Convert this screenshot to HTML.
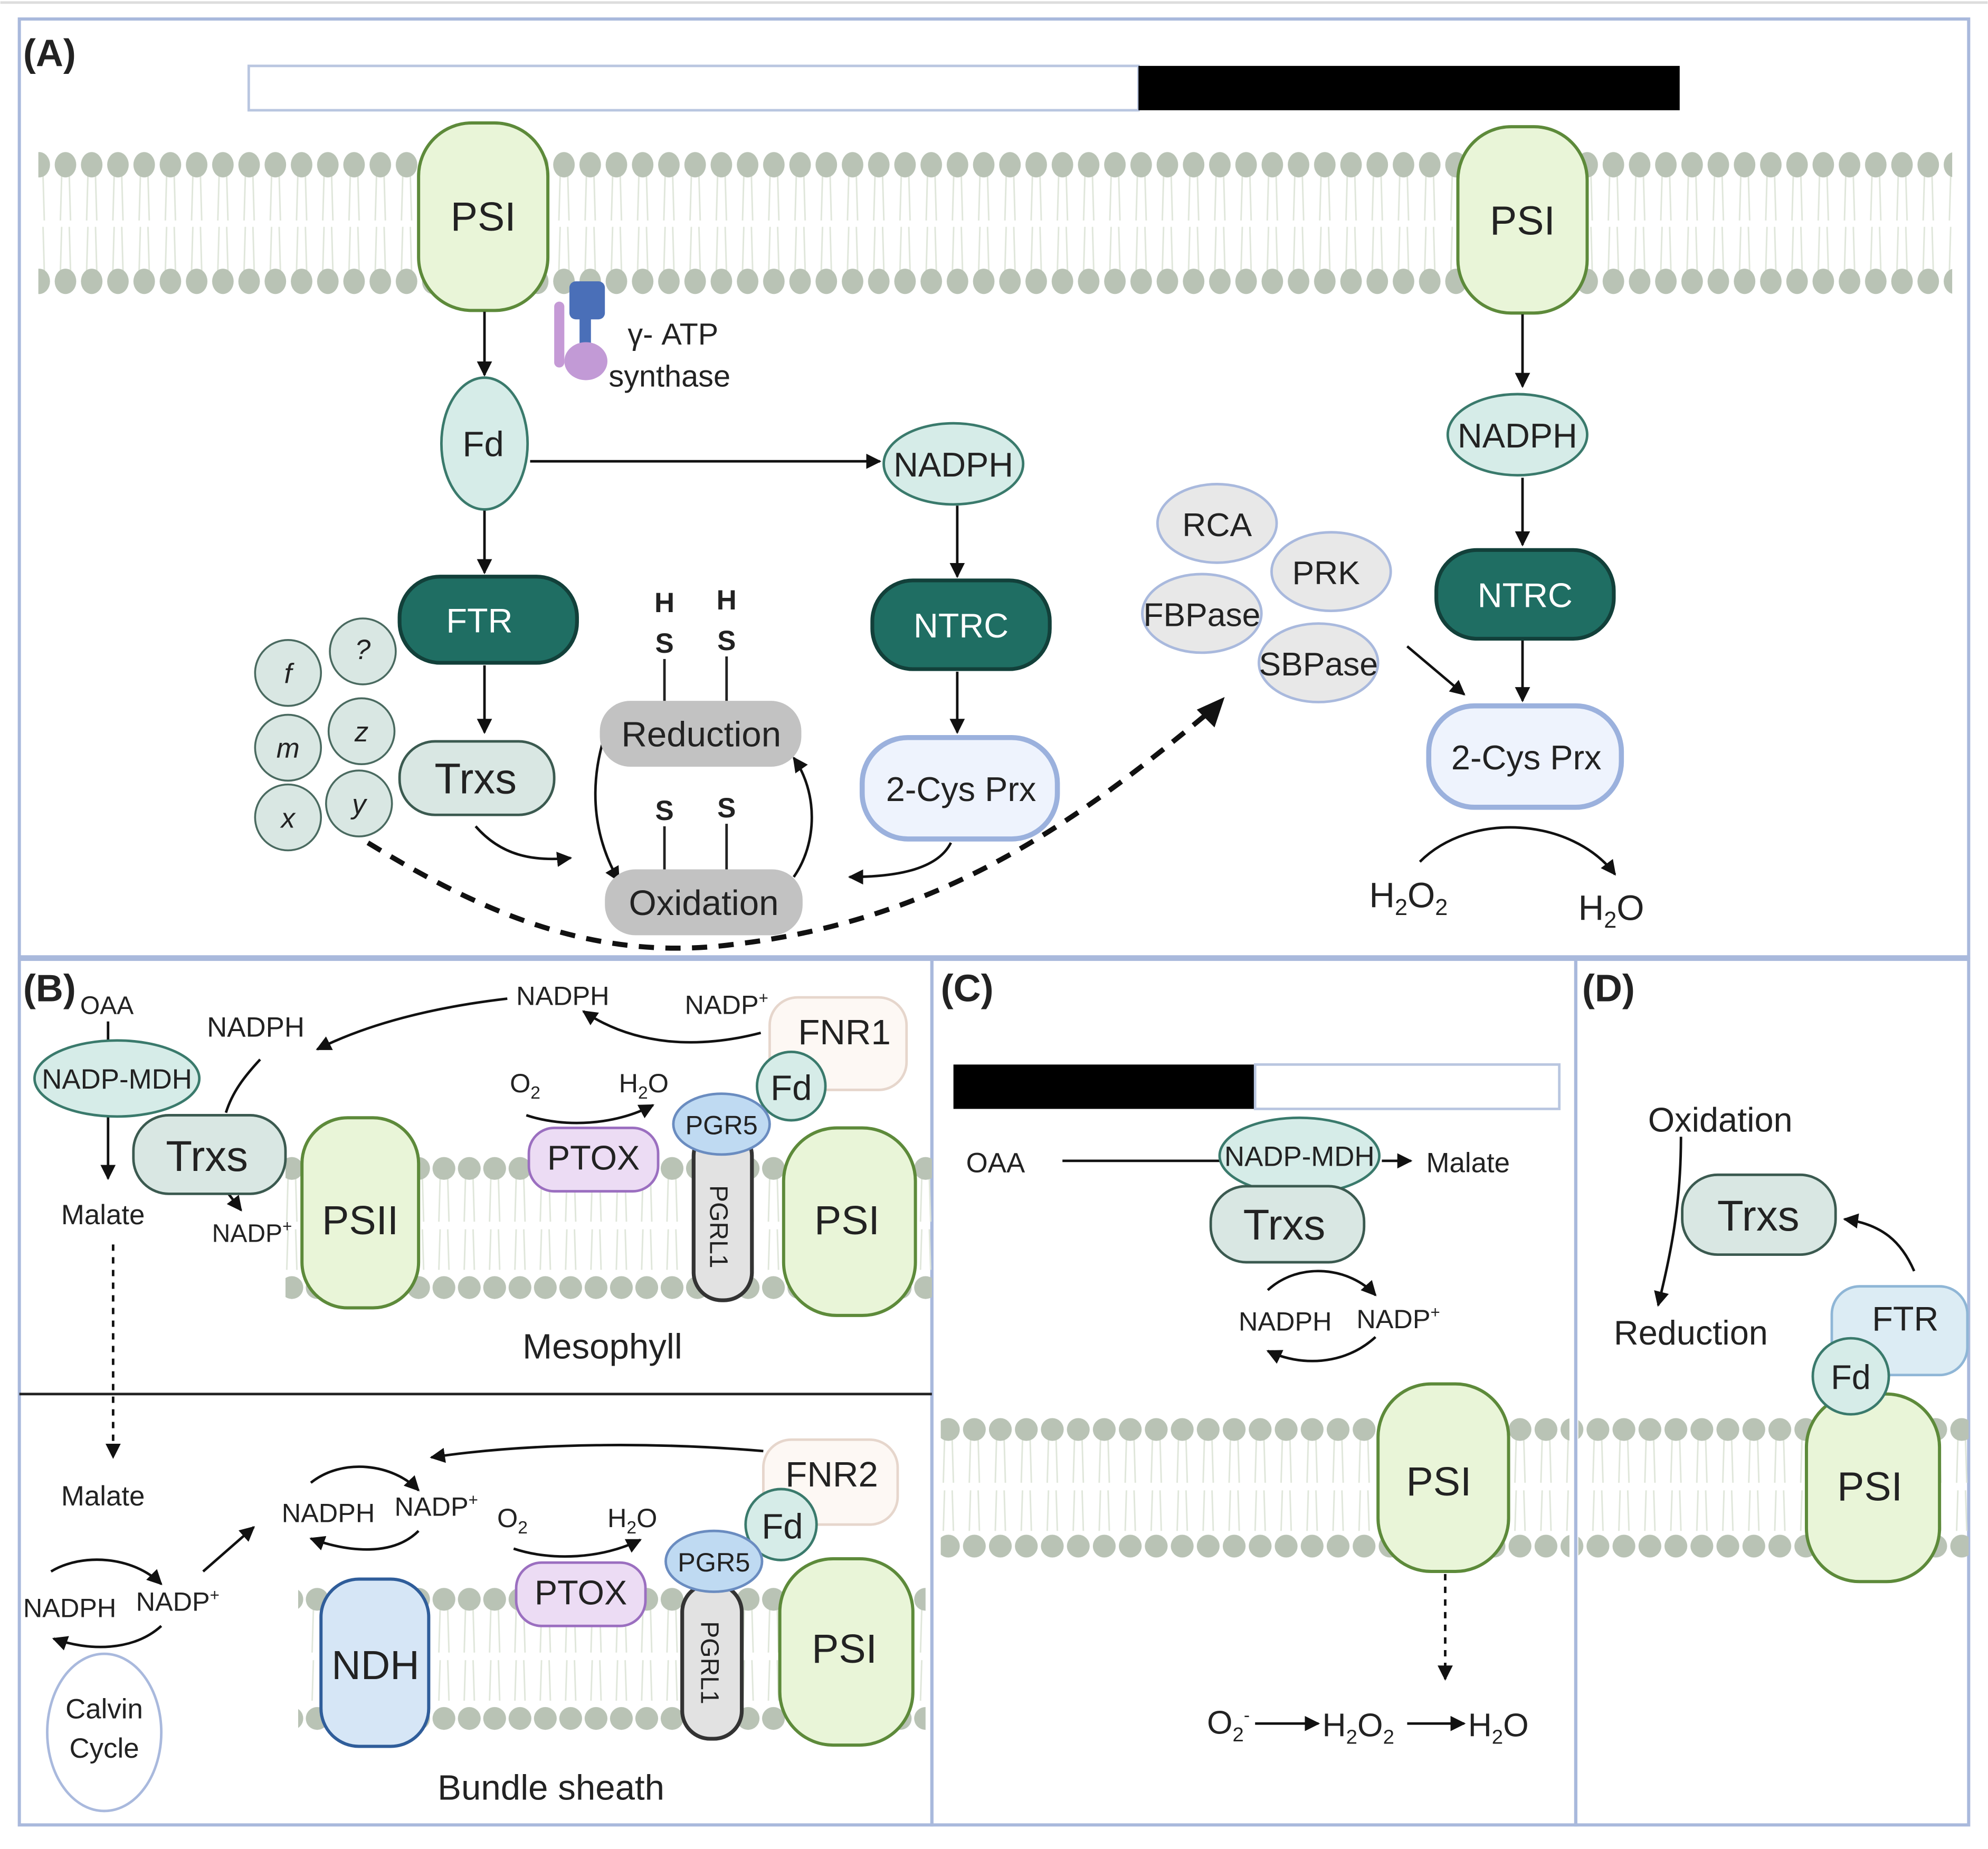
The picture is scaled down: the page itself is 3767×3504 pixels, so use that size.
<!DOCTYPE html>
<html><head><meta charset="utf-8"><style>
html,body{margin:0;padding:0;background:#fff;}
svg{display:block;}
text{font-family:"Liberation Sans","DejaVu Sans",sans-serif;fill:#222;}
</style></head><body>
<svg width="3767" height="3504" viewBox="0 0 1568 1459" xmlns="http://www.w3.org/2000/svg">
<defs>
<marker id="ar" viewBox="0 0 10 10" refX="9" refY="5" markerWidth="6" markerHeight="6" orient="auto-start-reverse"><path d="M0,0 L10,5 L0,10 z" fill="#111"/></marker>
<pattern id="mA" x="0" y="119" width="20.7" height="115" patternUnits="userSpaceOnUse">
<g stroke="#dfe6da" stroke-width="1.2" fill="none"><path d="M7,20 L6,55 M7,60 L6,95 M13,20 L14,55 M13,60 L14,95"/></g>
<ellipse cx="10" cy="11" rx="8.5" ry="10" fill="#b9c3b5"/><ellipse cx="10" cy="103" rx="8.5" ry="10" fill="#b9c3b5"/></pattern>
<pattern id="mB1" x="0" y="912" width="20" height="115" patternUnits="userSpaceOnUse">
<g stroke="#dfe6da" stroke-width="1.2" fill="none"><path d="M7,18 L6,52 M7,58 L6,90 M13,18 L14,52 M13,58 L14,90"/></g>
<circle cx="10" cy="10" r="9" fill="#b9c3b5"/><circle cx="10" cy="104" r="9" fill="#b9c3b5"/></pattern>
<pattern id="mB2" x="0" y="1252" width="20" height="115" patternUnits="userSpaceOnUse">
<g stroke="#dfe6da" stroke-width="1.2" fill="none"><path d="M7,18 L6,52 M7,58 L6,90 M13,18 L14,52 M13,58 L14,90"/></g>
<circle cx="10" cy="10" r="9" fill="#b9c3b5"/><circle cx="10" cy="104" r="9" fill="#b9c3b5"/></pattern>
<pattern id="mC" x="0" y="1118" width="20.5" height="115" patternUnits="userSpaceOnUse">
<g stroke="#dfe6da" stroke-width="1.2" fill="none"><path d="M7,18 L6,52 M7,58 L6,90 M13,18 L14,52 M13,58 L14,90"/></g>
<circle cx="10" cy="10" r="9" fill="#b9c3b5"/><circle cx="10" cy="102" r="9" fill="#b9c3b5"/></pattern>
</defs>
<rect width="1568" height="1459" fill="#fff"/>
<line x1="0" y1="2" x2="1568" y2="2" stroke="#ddd" stroke-width="2"/>
<!-- frames -->
<rect x="15" y="15" width="1538" height="740" fill="none" stroke="#a9b9dc" stroke-width="2.5"/>
<rect x="15" y="757" width="720" height="683" fill="none" stroke="#a9b9dc" stroke-width="2.5"/>
<rect x="735" y="757" width="508" height="683" fill="none" stroke="#a9b9dc" stroke-width="2.5"/>
<rect x="1243" y="757" width="310" height="683" fill="none" stroke="#a9b9dc" stroke-width="2.5"/>
<line x1="15" y1="1100" x2="735" y2="1100" stroke="#222" stroke-width="2"/>

<!-- ===== A ===== -->
<text x="18" y="52" font-size="30" font-weight="bold">(A)</text>
<rect x="196" y="52" width="702" height="35" fill="#fff" stroke="#b9c6e0" stroke-width="2"/>
<rect x="898" y="52" width="427" height="35" fill="#000"/>
<rect x="30" y="119" width="1510" height="115" fill="url(#mA)"/>
<rect x="330" y="97" width="102" height="148" rx="42" fill="#e9f5d8" stroke="#5d8a3a" stroke-width="2.5"/>
<text x="381" y="182" font-size="32" text-anchor="middle">PSI</text>
<rect x="1150" y="100" width="102" height="147" rx="42" fill="#e9f5d8" stroke="#5d8a3a" stroke-width="2.5"/>
<text x="1201" y="185" font-size="32" text-anchor="middle">PSI</text>
<!-- ATP synthase -->
<rect x="437" y="238" width="8" height="52" rx="4" fill="#c59ad6"/>
<rect x="449" y="222" width="28" height="30" rx="5" fill="#4a6fb8"/>
<rect x="457" y="250" width="9" height="22" fill="#4a6fb8"/>
<ellipse cx="462" cy="285" rx="17" ry="15" fill="#c29ad6"/>
<text x="495" y="272" font-size="24">γ- ATP</text>
<text x="480" y="305" font-size="24">synthase</text>
<!-- arrows -->
<g stroke="#111" stroke-width="2" fill="none" marker-end="url(#ar)">
<line x1="382" y1="246" x2="382" y2="296"/>
<line x1="418" y1="364" x2="694" y2="364"/>
<line x1="382" y1="402" x2="382" y2="452"/>
<line x1="382" y1="525" x2="382" y2="578"/>
<line x1="755" y1="399" x2="755" y2="455"/>
<line x1="755" y1="530" x2="755" y2="578"/>
<line x1="1201" y1="248" x2="1201" y2="305"/>
<line x1="1201" y1="377" x2="1201" y2="430"/>
<line x1="1201" y1="505" x2="1201" y2="553"/>
<line x1="1110" y1="510" x2="1155" y2="548"/>
<path d="M487,556 C465,600 462,650 488,695"/>
<path d="M626,692 C645,665 645,625 626,598"/>
<path d="M375,652 C395,675 420,680 450,677"/>
<path d="M750,665 C740,685 710,692 670,692"/>
<path d="M1120,680 C1160,640 1240,645 1274,690"/>
</g>
<path d="M290,665 C380,720 470,760 580,745 C750,725 860,640 962,555" fill="none" stroke="#111" stroke-width="4" stroke-dasharray="12,9"/>
<path d="M966,550 L944,560 L958,574 z" fill="#111"/>
<ellipse cx="382" cy="350" rx="34" ry="52" fill="#d6ece8" stroke="#3a7a6c" stroke-width="2"/>
<text x="381" y="360" font-size="28" text-anchor="middle">Fd</text>
<ellipse cx="752" cy="366" rx="55" ry="32" fill="#d6ece8" stroke="#3a7a6c" stroke-width="2"/>
<text x="752" y="376" font-size="27" text-anchor="middle">NADPH</text>
<rect x="688" y="458" width="140" height="70" rx="32" fill="#1f6e63" stroke="#12403a" stroke-width="3"/>
<text x="758" y="503" font-size="27" text-anchor="middle" style="fill:#fff">NTRC</text>
<rect x="680" y="582" width="154" height="80" rx="36" fill="#eef3fd" stroke="#9bb1dd" stroke-width="4"/>
<text x="758" y="632" font-size="27" text-anchor="middle">2-Cys Prx</text>
<rect x="315" y="455" width="140" height="68" rx="32" fill="#1f6e63" stroke="#12403a" stroke-width="3"/>
<text x="378" y="499" font-size="27" text-anchor="middle" style="fill:#fff">FTR</text>
<rect x="315" y="585" width="122" height="58" rx="28" fill="#d9e7e3" stroke="#3b5a50" stroke-width="2"/>
<text x="375" y="626" font-size="34" text-anchor="middle">Trxs</text>
<g fill="#d9e7e3" stroke="#4a6a60" stroke-width="1.5">
<circle cx="227" cy="531" r="26"/><circle cx="286" cy="514" r="26"/><circle cx="227" cy="590" r="26"/><circle cx="285" cy="577" r="26"/><circle cx="227" cy="645" r="26"/><circle cx="283" cy="634" r="26"/></g>
<g font-size="22" font-style="italic" text-anchor="middle">
<text x="227" y="539">f</text><text x="286" y="520">?</text><text x="227" y="598">m</text><text x="285" y="585">z</text><text x="227" y="653">x</text><text x="283" y="642">y</text></g>
<rect x="473" y="553" width="159" height="52" rx="24" fill="#c2c2c2"/>
<text x="553" y="589" font-size="28" text-anchor="middle">Reduction</text>
<rect x="477" y="686" width="156" height="52" rx="24" fill="#c2c2c2"/>
<text x="555" y="722" font-size="28" text-anchor="middle">Oxidation</text>
<g font-size="22" font-weight="bold" text-anchor="middle">
<text x="524" y="483">H</text><text x="524" y="515">S</text><text x="573" y="481">H</text><text x="573" y="513">S</text>
<text x="524" y="647">S</text><text x="573" y="645">S</text></g>
<g stroke="#222" stroke-width="2"><line x1="524" y1="520" x2="524" y2="553"/><line x1="573" y1="518" x2="573" y2="553"/><line x1="524" y1="652" x2="524" y2="686"/><line x1="573" y1="650" x2="573" y2="686"/></g>
<g fill="#e8e8e8" stroke="#a9b9dd" stroke-width="2">
<ellipse cx="960" cy="413" rx="47" ry="31"/><ellipse cx="1050" cy="451" rx="47" ry="31"/><ellipse cx="948" cy="484" rx="47" ry="31"/><ellipse cx="1040" cy="523" rx="47" ry="31"/></g>
<g font-size="26" text-anchor="middle"><text x="960" y="423">RCA</text><text x="1046" y="461">PRK</text><text x="948" y="494">FBPase</text><text x="1040" y="533">SBPase</text></g>
<ellipse cx="1197" cy="343" rx="55" ry="32" fill="#d6ece8" stroke="#3a7a6c" stroke-width="2"/>
<text x="1197" y="353" font-size="27" text-anchor="middle">NADPH</text>
<rect x="1133" y="434" width="140" height="70" rx="32" fill="#1f6e63" stroke="#12403a" stroke-width="3"/>
<text x="1203" y="479" font-size="27" text-anchor="middle" style="fill:#fff">NTRC</text>
<rect x="1127" y="557" width="152" height="80" rx="36" fill="#eef3fd" stroke="#9bb1dd" stroke-width="4"/>
<text x="1204" y="607" font-size="27" text-anchor="middle">2-Cys Prx</text>
<text x="1080" y="716" font-size="28">H<tspan font-size="18" dy="6">2</tspan><tspan dy="-6">O</tspan><tspan font-size="18" dy="6">2</tspan></text>
<text x="1245" y="726" font-size="28">H<tspan font-size="18" dy="6">2</tspan><tspan dy="-6">O</tspan></text>

<!-- ===== B ===== -->
<text x="18" y="790" font-size="30" font-weight="bold">(B)</text>
<text x="63" y="800" font-size="20">OAA</text>
<rect x="225" y="912" width="510" height="115" fill="url(#mB1)"/>
<rect x="235" y="1252" width="495" height="115" fill="url(#mB2)"/>
<g stroke="#111" stroke-width="2" fill="none">
<line x1="85" y1="806" x2="85" y2="822"/>
<line x1="85" y1="880" x2="85" y2="930" marker-end="url(#ar)"/>
<path d="M205,836 C192,850 183,862 178,878"/>
<path d="M180,942 L190,955" marker-end="url(#ar)"/>
<path d="M400,788 C340,795 290,808 250,828" marker-end="url(#ar)"/>
<path d="M600,815 C550,828 500,825 460,798" marker-end="url(#ar)"/>
<path d="M415,880 C445,890 485,888 515,872" marker-end="url(#ar)"/>
<line x1="89" y1="982" x2="89" y2="1150" stroke-dasharray="5,5" marker-end="url(#ar)"/>
<path d="M602,1145 C520,1138 420,1138 340,1150" marker-end="url(#ar)"/>
<path d="M405,1222 C435,1232 475,1230 505,1215" marker-end="url(#ar)"/>
<path d="M245,1170 C270,1150 310,1155 330,1176" marker-end="url(#ar)"/>
<path d="M330,1208 C310,1228 275,1225 245,1214" marker-end="url(#ar)"/>
<path d="M40,1240 C65,1225 105,1228 127,1250" marker-end="url(#ar)"/>
<path d="M127,1283 C105,1303 70,1303 42,1293" marker-end="url(#ar)"/>
<line x1="160" y1="1240" x2="200" y2="1205" marker-end="url(#ar)"/>
</g>
<ellipse cx="92" cy="851" rx="65" ry="30" fill="#d6ece8" stroke="#3a7a6c" stroke-width="2"/>
<text x="92" y="859" font-size="22" text-anchor="middle">NADP-MDH</text>
<rect x="105" y="880" width="120" height="62" rx="28" fill="#d9e7e3" stroke="#3b5a50" stroke-width="2"/>
<text x="163" y="924" font-size="34" text-anchor="middle">Trxs</text>
<text x="48" y="966" font-size="22">Malate</text>
<text x="163" y="818" font-size="22">NADPH</text>
<text x="167" y="980" font-size="20">NADP<tspan font-size="13" dy="-8">+</tspan></text>
<rect x="238" y="882" width="92" height="150" rx="36" fill="#e9f5d8" stroke="#5d8a3a" stroke-width="2.5"/>
<text x="284" y="974" font-size="32" text-anchor="middle">PSII</text>
<rect x="618" y="890" width="104" height="148" rx="42" fill="#e9f5d8" stroke="#5d8a3a" stroke-width="2.5"/>
<text x="668" y="974" font-size="32" text-anchor="middle">PSI</text>
<rect x="607" y="787" width="108" height="73" rx="22" fill="#fdf8f4" stroke="#e6d6cc" stroke-width="2"/>
<text x="666" y="824" font-size="28" text-anchor="middle">FNR1</text>
<rect x="547" y="890" width="46" height="136" rx="22" fill="#e2e2e2" stroke="#333" stroke-width="3"/>
<text transform="translate(560,968) rotate(90)" font-size="20" text-anchor="middle">PGRL1</text>
<circle cx="624" cy="857" r="27" fill="#d6ece8" stroke="#3a7a6c" stroke-width="2"/>
<text x="624" y="868" font-size="28" text-anchor="middle">Fd</text>
<ellipse cx="569" cy="887" rx="38" ry="24" fill="#bfdaf2" stroke="#6a8cc0" stroke-width="2"/>
<text x="569" y="895" font-size="21" text-anchor="middle">PGR5</text>
<rect x="417" y="890" width="102" height="50" rx="20" fill="#ecdcf4" stroke="#9b6fc0" stroke-width="2"/>
<text x="468" y="923" font-size="27" text-anchor="middle">PTOX</text>
<text x="402" y="862" font-size="21">O<tspan font-size="14" dy="5">2</tspan></text>
<text x="488" y="862" font-size="21">H<tspan font-size="14" dy="5">2</tspan><tspan dy="-5">O</tspan></text>
<text x="407" y="793" font-size="21">NADPH</text>
<text x="540" y="800" font-size="21">NADP<tspan font-size="13" dy="-8">+</tspan></text>
<text x="412" y="1072" font-size="28">Mesophyll</text>
<!-- bundle sheath -->
<text x="48" y="1188" font-size="22">Malate</text>
<text x="18" y="1276" font-size="21">NADPH</text>
<text x="107" y="1271" font-size="21">NADP<tspan font-size="13" dy="-8">+</tspan></text>
<ellipse cx="82" cy="1367" rx="45" ry="62" fill="#fff" stroke="#a9b9dd" stroke-width="2"/>
<text x="82" y="1356" font-size="22" text-anchor="middle">Calvin</text>
<text x="82" y="1387" font-size="22" text-anchor="middle">Cycle</text>
<text x="222" y="1201" font-size="21">NADPH</text>
<text x="311" y="1196" font-size="21">NADP<tspan font-size="13" dy="-8">+</tspan></text>
<text x="392" y="1205" font-size="21">O<tspan font-size="14" dy="5">2</tspan></text>
<text x="479" y="1205" font-size="21">H<tspan font-size="14" dy="5">2</tspan><tspan dy="-5">O</tspan></text>
<rect x="602" y="1136" width="106" height="67" rx="22" fill="#fdf8f4" stroke="#e6d6cc" stroke-width="2"/>
<text x="656" y="1173" font-size="28" text-anchor="middle">FNR2</text>
<rect x="538" y="1250" width="47" height="122" rx="22" fill="#e2e2e2" stroke="#333" stroke-width="3"/>
<text transform="translate(553,1312) rotate(90)" font-size="20" text-anchor="middle">PGRL1</text>
<circle cx="616" cy="1203" r="28" fill="#d6ece8" stroke="#3a7a6c" stroke-width="2"/>
<text x="617" y="1214" font-size="28" text-anchor="middle">Fd</text>
<ellipse cx="563" cy="1232" rx="38" ry="24" fill="#bfdaf2" stroke="#6a8cc0" stroke-width="2"/>
<text x="563" y="1240" font-size="21" text-anchor="middle">PGR5</text>
<rect x="407" y="1233" width="102" height="50" rx="20" fill="#ecdcf4" stroke="#9b6fc0" stroke-width="2"/>
<text x="458" y="1266" font-size="27" text-anchor="middle">PTOX</text>
<rect x="253" y="1246" width="85" height="132" rx="30" fill="#d6e6f6" stroke="#2f5d9a" stroke-width="2.5"/>
<text x="296" y="1325" font-size="32" text-anchor="middle">NDH</text>
<rect x="615" y="1230" width="105" height="147" rx="42" fill="#e9f5d8" stroke="#5d8a3a" stroke-width="2.5"/>
<text x="666" y="1312" font-size="32" text-anchor="middle">PSI</text>
<text x="345" y="1420" font-size="28">Bundle sheath</text>

<!-- ===== C ===== -->
<text x="742" y="790" font-size="30" font-weight="bold">(C)</text>
<rect x="752" y="840" width="238" height="35" fill="#000"/>
<rect x="990" y="840" width="240" height="35" fill="#fff" stroke="#b9c6e0" stroke-width="2"/>
<rect x="742" y="1118" width="496" height="115" fill="url(#mC)"/>
<text x="762" y="925" font-size="22">OAA</text>
<g stroke="#111" stroke-width="2" fill="none">
<line x1="838" y1="916" x2="962" y2="916"/>
<line x1="1090" y1="916" x2="1113" y2="916" marker-end="url(#ar)"/>
<path d="M1000,1018 C1025,995 1065,1000 1085,1022" marker-end="url(#ar)"/>
<path d="M1085,1055 C1060,1078 1025,1078 1000,1066" marker-end="url(#ar)"/>
<line x1="1140" y1="1242" x2="1140" y2="1325" stroke-dasharray="5,5" marker-end="url(#ar)"/>
<line x1="990" y1="1360" x2="1040" y2="1360" marker-end="url(#ar)"/>
<line x1="1110" y1="1360" x2="1155" y2="1360" marker-end="url(#ar)"/>
</g>
<ellipse cx="1025" cy="912" rx="63" ry="30" fill="#d6ece8" stroke="#3a7a6c" stroke-width="2"/>
<text x="1025" y="920" font-size="22" text-anchor="middle">NADP-MDH</text>
<text x="1125" y="925" font-size="22">Malate</text>
<rect x="955" y="936" width="121" height="60" rx="28" fill="#d9e7e3" stroke="#3b5a50" stroke-width="2"/>
<text x="1013" y="978" font-size="34" text-anchor="middle">Trxs</text>
<text x="977" y="1050" font-size="21">NADPH</text>
<text x="1070" y="1048" font-size="21">NADP<tspan font-size="13" dy="-8">+</tspan></text>
<rect x="1087" y="1092" width="103" height="148" rx="42" fill="#e9f5d8" stroke="#5d8a3a" stroke-width="2.5"/>
<text x="1135" y="1180" font-size="32" text-anchor="middle">PSI</text>
<text x="952" y="1368" font-size="26">O<tspan font-size="16" dy="6">2</tspan><tspan font-size="14" dy="-16">-</tspan></text>
<text x="1043" y="1370" font-size="26">H<tspan font-size="16" dy="6">2</tspan><tspan dy="-6">O</tspan><tspan font-size="16" dy="6">2</tspan></text>
<text x="1158" y="1370" font-size="26">H<tspan font-size="16" dy="6">2</tspan><tspan dy="-6">O</tspan></text>

<!-- ===== D ===== -->
<text x="1248" y="790" font-size="30" font-weight="bold">(D)</text>
<rect x="1245" y="1118" width="308" height="115" fill="url(#mC)"/>
<text x="1300" y="893" font-size="27">Oxidation</text>
<rect x="1327" y="927" width="121" height="63" rx="28" fill="#d9e7e3" stroke="#3b5a50" stroke-width="2"/>
<text x="1387" y="971" font-size="34" text-anchor="middle">Trxs</text>
<g stroke="#111" stroke-width="2" fill="none">
<path d="M1326,897 C1326,950 1318,990 1308,1030" marker-end="url(#ar)"/>
<path d="M1510,1003 C1500,980 1485,966 1455,962" marker-end="url(#ar)"/>
</g>
<text x="1273" y="1061" font-size="27">Reduction</text>
<rect x="1445" y="1015" width="107" height="70" rx="22" fill="#dcecf4" stroke="#8fb6d6" stroke-width="2"/>
<text x="1503" y="1050" font-size="27" text-anchor="middle">FTR</text>
<rect x="1425" y="1100" width="105" height="148" rx="42" fill="#e9f5d8" stroke="#5d8a3a" stroke-width="2.5"/>
<ellipse cx="1460" cy="1086" rx="30" ry="30" fill="#d6ece8" stroke="#3a7a6c" stroke-width="2"/>
<text x="1460" y="1096" font-size="27" text-anchor="middle">Fd</text>
<text x="1475" y="1184" font-size="32" text-anchor="middle">PSI</text>
</svg>
</body></html>
